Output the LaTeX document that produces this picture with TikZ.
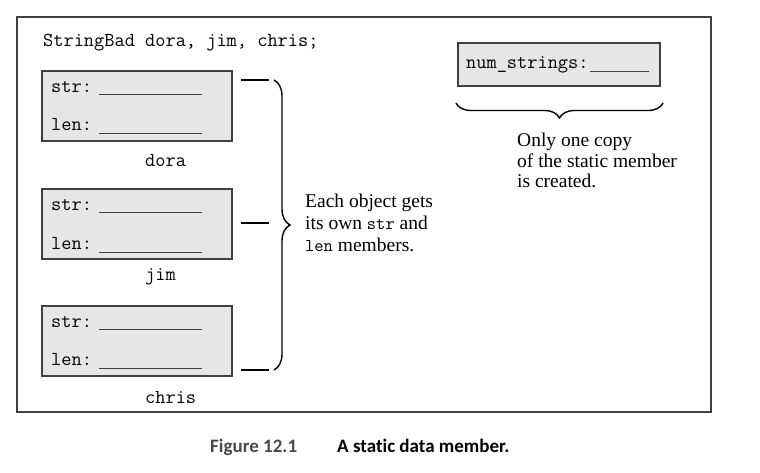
\documentclass[tikz,border=0pt]{standalone}
\usepackage{fontspec}
\setmainfont{Liberation Serif}
\newfontfamily\capfont[Ligatures=NoCommon]{Carlito}
\usetikzlibrary{calc,decorations.pathreplacing}
\definecolor{boxfill}{HTML}{E6E6E6}
\definecolor{edge}{HTML}{404040}
\definecolor{capgray}{HTML}{4A4A4A}
\newcommand{\cpp}[1]{{\fontsize{18}{22}\selectfont\ttfamily #1}}
\begin{document}
\begin{tikzpicture}[x=1pt, y=-1pt,
  objbox/.style={draw=edge, line width=2pt, fill=boxfill, minimum width=190pt, minimum height=70pt, inner sep=0pt},
  mono/.style={font=\fontsize{19.8}{22}\selectfont\ttfamily, inner sep=0pt},
  blank/.style={draw=edge, line width=1pt},
  capt/.style={font=\fontsize{19}{21}\selectfont\capfont\bfseries, inner sep=0pt}]
\useasboundingbox (0,0) rectangle (760,473);
\draw[edge, line width=1.8pt] (17,17) rectangle (711,412);
\node[mono, anchor=base west] (decl) at (43,47) {StringBad dora, jim, chris;};
% the three objects
\node[objbox] (dora) at (137,106) {};
\node[objbox] (jim) at (137,224) {};
\node[objbox] (chris) at (137,340.5) {};
\foreach \obj in {dora,jim,chris} {
  \node[mono, anchor=base west] (\obj-str) at ($(\obj.north west)+(10,22.5)$) {str:};
  \node[mono, anchor=base west] (\obj-len) at ($(\obj.north west)+(10,61)$) {len:};
  \draw[blank] ($(\obj.north west)+(58,25)$) -- ++(103,0);
  \draw[blank] ($(\obj.north west)+(58,64)$) -- ++(103,0);
}
\node[mono, anchor=base west] (doraname) at (145,167) {dora};
\node[mono, anchor=base west] (jimname) at (145,280) {jim};
\node[mono, anchor=base west] (chrisname) at (145,403) {chris};
% brace for the members
\coordinate (tickA) at (241,80);
\coordinate (tickB) at (241,223);
\coordinate (tickC) at (241,370);
\coordinate (objtop) at (274,80);
\coordinate (objbot) at (274,370);
\draw[line width=1.3pt] (tickA) -- ++(28,0);
\draw[line width=1.3pt] (tickB) -- ++(28,0);
\draw[line width=1.3pt] (tickC) -- ++(28,0);
\draw[line width=1.4pt, decorate, decoration={brace, amplitude=16pt}] (objtop) -- (objbot);
\node[font=\fontsize{19.5}{22}\selectfont, align=left, inner sep=0pt, anchor=north west] (each) at (305,194)
  {Each object gets\\its own \cpp{str} and\\\cpp{len} members.};
% the static member
\node[objbox, minimum width=202pt, minimum height=43pt] (count) at (559,64.5) {};
\node[mono, anchor=base west] (countlbl) at (466,69) {num\_strings:};
\draw[blank] ($(countlbl.base east)+(1,3)$) -- ++(59,0);
\coordinate (cntright) at (663,103);
\coordinate (cntleft) at (456,103);
\draw[line width=1.4pt, decorate, decoration={brace, amplitude=15pt}] (cntright) -- (cntleft);
\node[font=\fontsize{19.5}{20.5}\selectfont, align=left, inner sep=0pt, anchor=north west] (once) at (517,133)
  {Only one copy\\of the static member\\is created.};
% caption
\node[capt, text=capgray, anchor=base west] (fignum) at (210,452) {Figure 12.1};
\node[capt, anchor=base west] (figtitle) at (337,452) {A static data member.};
\end{tikzpicture}
\end{document}
